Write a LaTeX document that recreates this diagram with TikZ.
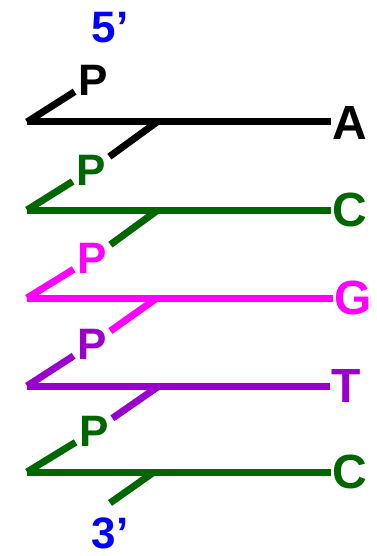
\documentclass[tikz,border=0pt]{standalone}
\usepackage{fontspec}
\setmainfont{Liberation Sans}
\usepackage{tikz}
\definecolor{DnaGreen}{HTML}{006600}
\definecolor{DnaPink}{HTML}{FF00FF}
\definecolor{DnaPurple}{HTML}{9900CC}
\definecolor{DnaBlue}{HTML}{0000FF}

\begin{document}
\begin{tikzpicture}[
  x=1pt, y=-1pt,
  strand/.style={line width=7pt, line cap=butt},
  phos/.style={font=\fontsize{44}{44}\selectfont\bfseries, inner sep=3.5pt},
  base/.style={font=\fontsize{48}{48}\selectfont\bfseries, inner sep=1.5pt, anchor=west},
  term/.style={font=\fontsize{44}{44}\selectfont\bfseries, text=DnaBlue, inner sep=0pt}
]
\useasboundingbox (0,0) rectangle (376,556);

% ends of the chain
\node[term] (five) at (110,28) {5’};
\node[term] (three) at (110,533) {3’};
\coordinate (tail) at (110,503);

% sugar corners and midpoints
\coordinate (l1) at (27,122);  \coordinate (m1) at (157,122);
\coordinate (l2) at (27,210);  \coordinate (m2) at (158,210);
\coordinate (l3) at (27,298);  \coordinate (m3) at (157,298);
\coordinate (l4) at (27,386);  \coordinate (m4) at (159,386);
\coordinate (l5) at (27,472);  \coordinate (m5) at (154,472);

% phosphates
\node[phos, text=black] (p1) at (93,80) {P};
\node[phos, text=DnaGreen] (p2) at (91,170) {P};
\node[phos, text=DnaPink] (p3) at (92,258) {P};
\node[phos, text=DnaPurple] (p4) at (92,344) {P};
\node[phos, text=DnaGreen] (p5) at (94,431) {P};

% bases
\node[base, text=black] (a) at (331,123) {A};
\node[base, text=DnaGreen] (c1) at (331,210) {C};
\node[base, text=DnaPink] (g) at (333,298) {G};
\node[base, text=DnaPurple] (t) at (330,386) {T};
\node[base, text=DnaGreen] (c2) at (331,472) {C};

% nucleotide 1
\draw[strand, black] (p1) -- (l1);
\draw[strand, black] (l1) -- (a.west |- l1);
\draw[strand, black] (m1) -- (p2);
% nucleotide 2
\draw[strand, DnaGreen] (p2) -- (l2);
\draw[strand, DnaGreen] (l2) -- (c1.west |- l2);
\draw[strand, DnaGreen] (m2) -- (p3);
% nucleotide 3
\draw[strand, DnaPink] (p3) -- (l3);
\draw[strand, DnaPink] (l3) -- (g.west |- l3);
\draw[strand, DnaPink] (m3) -- (p4);
% nucleotide 4
\draw[strand, DnaPurple] (p4) -- (l4);
\draw[strand, DnaPurple] (l4) -- (t.west |- l4);
\draw[strand, DnaPurple] (m4) -- (p5);
% nucleotide 5
\draw[strand, DnaGreen] (p5) -- (l5);
\draw[strand, DnaGreen] (l5) -- (c2.west |- l5);
\draw[strand, DnaGreen] (m5) -- (tail);
\end{tikzpicture}
\end{document}
